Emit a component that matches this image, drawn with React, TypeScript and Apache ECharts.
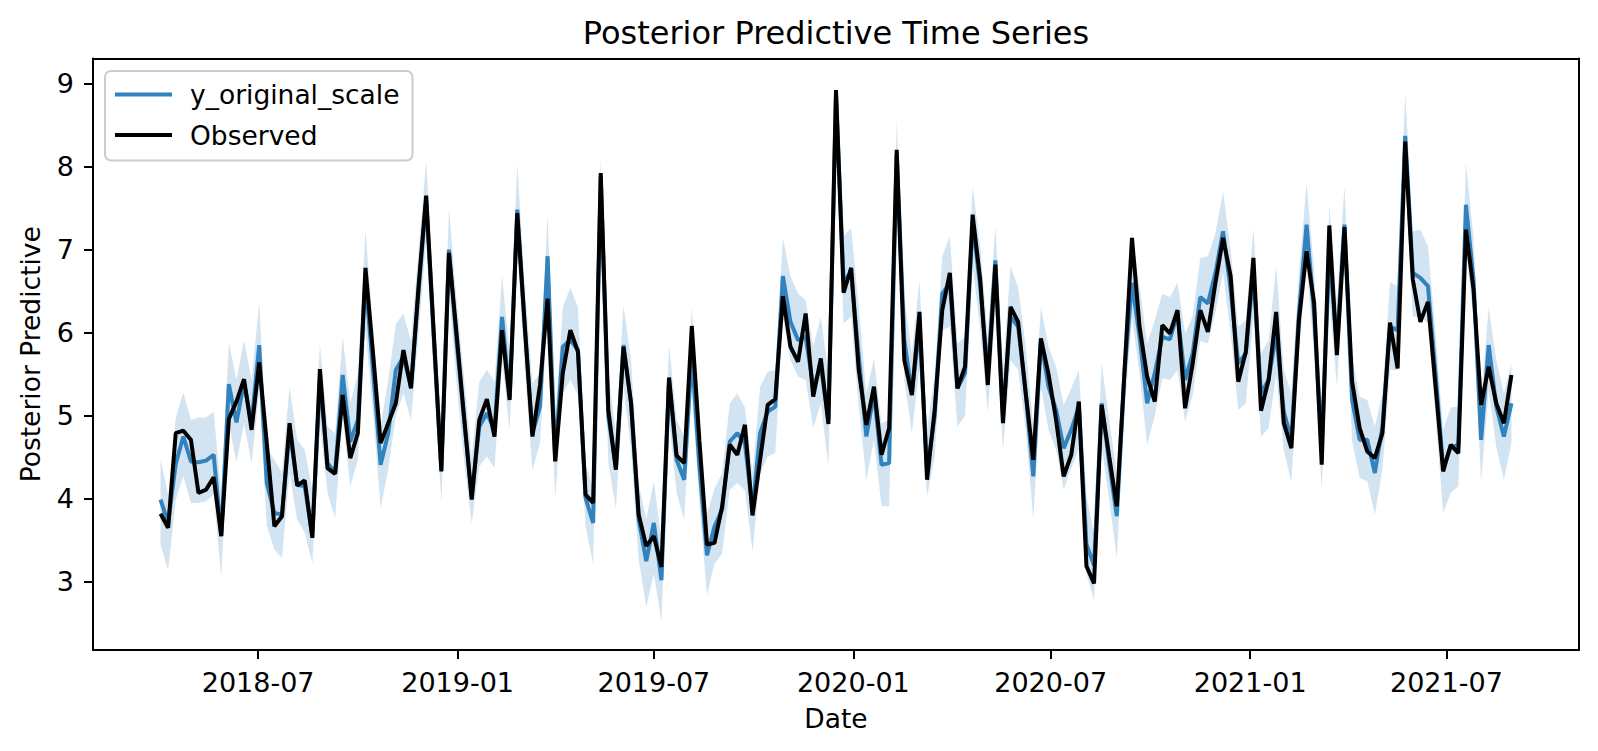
import React, { useEffect, useRef } from "react";
import * as echarts from "echarts";

// weekly observations, first week starting Monday 2018-04-02
const START_DATE = [2018, 4, 2];
const observed = [
  3.82, 3.65, 4.79, 4.82, 4.71, 4.07, 4.11, 4.26, 3.55, 4.96,
  5.17, 5.44, 4.83, 5.64, 4.67, 3.67, 3.79, 4.91, 4.16, 4.22,
  3.53, 5.56, 4.37, 4.3, 5.25, 4.49, 4.79, 6.78, 5.75, 4.67,
  4.91, 5.15, 5.79, 5.33, 6.56, 7.65, 5.99, 4.33, 6.96, 5.99,
  4.98, 3.99, 4.95, 5.2, 4.75, 6.03, 5.19, 7.44, 6.07, 4.75,
  5.37, 6.41, 4.45, 5.51, 6.03, 5.77, 4.05, 3.95, 7.92, 5.07,
  4.35, 5.83, 5.15, 3.81, 3.43, 3.55, 3.18, 5.46, 4.52, 4.43,
  6.08, 4.7, 3.45, 3.47, 3.91, 4.65, 4.53, 4.89, 3.8, 4.47,
  5.13, 5.2, 6.44, 5.83, 5.65, 6.23, 5.23, 5.69, 4.9, 8.92,
  6.48, 6.78, 5.55, 4.89, 5.35, 4.53, 4.85, 8.2, 5.67, 5.25,
  6.25, 4.23, 5.07, 6.27, 6.72, 5.33, 5.59, 7.42, 6.64, 5.37,
  6.82, 4.91, 6.31, 6.13, 5.27, 4.47, 5.93, 5.5, 4.95, 4.27,
  4.53, 5.17, 3.19, 2.98, 5.13, 4.51, 3.91, 5.51, 7.14, 6.07,
  5.47, 5.17, 6.09, 5.99, 6.27, 5.09, 5.63, 6.27, 6.01, 6.6,
  7.14, 6.68, 5.41, 5.77, 6.9, 5.06, 5.43, 6.25, 4.91, 4.61,
  6.15, 6.98, 6.36, 4.41, 7.29, 5.73, 7.27, 5.41, 4.85, 4.57,
  4.49, 4.79, 6.12, 5.57, 8.3, 6.64, 6.13, 6.37, 5.35, 4.33,
  4.65, 4.55, 7.24, 6.52, 5.13, 5.59, 5.15, 4.91, 5.49,
];
const predMean = [
  3.99, 3.71, 4.42, 4.75, 4.45, 4.44, 4.46, 4.53, 3.56, 5.38,
  4.92, 5.4, 4.91, 5.85, 4.19, 3.83, 3.81, 4.83, 4.17, 4.15,
  3.55, 5.43, 4.43, 4.31, 5.49, 4.69, 4.95, 6.65, 5.55, 4.41,
  4.79, 5.55, 5.71, 5.35, 6.5, 7.6, 5.95, 4.35, 7.0, 5.9,
  4.95, 4.03, 4.87, 5.03, 4.83, 6.19, 5.23, 7.48, 6.07, 4.79,
  5.11, 6.92, 4.47, 5.83, 5.91, 5.79, 4.01, 3.71, 7.88, 4.99,
  4.37, 5.85, 5.15, 3.75, 3.25, 3.71, 3.02, 5.43, 4.47, 4.23,
  5.75, 4.4, 3.32, 3.67, 3.87, 4.69, 4.79, 4.67, 3.87, 4.79,
  5.05, 5.11, 6.68, 6.13, 5.91, 5.95, 5.35, 5.59, 4.95, 8.85,
  6.63, 6.72, 5.71, 4.75, 5.27, 4.41, 4.43, 8.15, 5.91, 5.27,
  6.07, 4.35, 4.99, 6.47, 6.6, 5.33, 5.51, 7.32, 6.56, 5.51,
  6.87, 4.99, 6.19, 6.07, 5.27, 4.27, 5.91, 5.35, 5.07, 4.61,
  4.83, 5.11, 3.45, 3.2, 5.15, 4.43, 3.79, 5.5, 6.6, 5.95,
  5.15, 5.51, 5.95, 5.92, 6.23, 5.43, 5.75, 6.43, 6.35, 6.72,
  7.22, 6.52, 5.63, 5.75, 6.72, 5.27, 5.43, 5.99, 5.05, 4.71,
  6.23, 7.3, 6.23, 4.63, 6.95, 5.85, 7.3, 5.19, 4.71, 4.71,
  4.31, 4.87, 6.07, 6.03, 8.37, 6.72, 6.66, 6.56, 5.5, 4.37,
  4.62, 4.65, 7.54, 6.64, 4.71, 5.85, 5.11, 4.75, 5.15,
];
const predLower = [
  3.45, 3.14, 3.99, 4.27, 3.95, 3.95, 3.97, 4.05, 3.06, 4.91,
  4.44, 4.9, 4.43, 5.3, 3.67, 3.39, 3.29, 4.31, 3.75, 3.59,
  3.22, 4.91, 4.07, 3.77, 4.99, 4.15, 4.47, 6.03, 5.03, 3.89,
  4.35, 5.0, 5.27, 4.95, 6.0, 7.12, 5.45, 3.95, 6.5, 5.4,
  4.45, 3.71, 4.39, 4.51, 4.37, 5.67, 4.83, 7.0, 5.55, 4.35,
  4.67, 6.23, 4.0, 5.27, 5.43, 5.25, 3.67, 3.22, 7.36, 4.43,
  3.88, 5.35, 4.59, 3.27, 2.7, 3.1, 2.52, 4.95, 4.07, 3.75,
  5.3, 3.95, 2.84, 3.22, 3.34, 4.11, 4.19, 4.1, 3.37, 4.3,
  4.51, 4.55, 6.19, 5.67, 5.47, 5.43, 4.85, 5.15, 4.39, 8.3,
  6.11, 6.19, 5.11, 4.23, 4.71, 3.91, 3.91, 7.65, 5.43, 4.79,
  5.59, 4.03, 4.5, 6.03, 6.07, 4.87, 5.0, 6.8, 6.05, 5.05,
  6.23, 4.59, 5.67, 5.55, 4.83, 3.75, 5.35, 4.83, 4.59, 4.11,
  4.37, 4.6, 3.1, 2.78, 4.63, 3.99, 3.28, 5.03, 6.19, 5.5,
  4.65, 5.0, 5.45, 5.43, 5.55, 4.93, 5.25, 5.9, 5.87, 6.25,
  6.72, 6.0, 5.07, 5.15, 6.19, 4.75, 4.85, 5.5, 4.59, 4.2,
  5.75, 6.8, 5.75, 4.11, 6.43, 5.35, 6.8, 4.7, 4.25, 4.21,
  3.81, 4.35, 5.55, 5.55, 7.85, 6.19, 6.19, 6.11, 5.0, 3.83,
  4.07, 4.15, 7.0, 6.15, 4.21, 5.31, 4.63, 4.23, 4.67,
];
const predUpper = [
  4.48, 4.05, 4.98, 5.28, 4.95, 4.98, 4.98, 5.05, 4.05, 5.89,
  5.43, 5.91, 5.43, 6.36, 4.62, 4.47, 4.31, 5.35, 4.71, 4.59,
  4.1, 5.87, 4.87, 4.79, 5.95, 5.15, 5.51, 7.22, 6.07, 4.87,
  5.43, 6.1, 6.23, 5.9, 7.0, 8.06, 6.45, 4.8, 7.5, 6.4,
  5.45, 4.51, 5.41, 5.55, 5.41, 6.68, 5.75, 8.04, 6.55, 5.39,
  5.51, 7.42, 4.95, 6.31, 6.54, 6.3, 4.43, 4.11, 8.1, 5.51,
  4.79, 6.33, 5.67, 4.19, 3.75, 4.21, 3.51, 5.85, 4.95, 4.75,
  6.3, 4.9, 3.82, 4.12, 4.31, 5.15, 5.27, 5.1, 4.31, 5.35,
  5.53, 5.55, 7.14, 6.68, 6.47, 6.39, 5.83, 6.19, 5.51, 8.95,
  7.16, 7.26, 6.31, 5.27, 5.69, 4.91, 4.95, 8.55, 6.43, 5.75,
  6.63, 4.83, 5.5, 6.92, 7.16, 5.87, 5.95, 7.76, 7.05, 5.95,
  7.28, 5.55, 6.8, 6.55, 5.83, 4.87, 6.31, 5.83, 5.59, 5.13,
  5.33, 5.55, 4.03, 3.58, 5.63, 4.95, 4.31, 5.95, 7.22, 6.56,
  5.87, 6.15, 6.47, 6.43, 6.6, 5.99, 6.2, 6.9, 6.92, 7.2,
  7.7, 7.0, 6.07, 6.15, 7.26, 5.75, 5.91, 6.8, 5.55, 5.27,
  6.7, 7.8, 6.75, 5.1, 7.52, 6.35, 7.76, 5.7, 5.23, 5.19,
  4.87, 5.27, 6.61, 6.56, 8.88, 7.22, 7.24, 7.04, 6.0, 4.83,
  5.1, 5.11, 8.04, 7.15, 5.2, 6.31, 5.67, 5.27, 5.63,
];
const xTickLabels = ["2018-07", "2019-01", "2019-07", "2020-01", "2020-07", "2021-01", "2021-07"];
const yTickValues = [3, 4, 5, 6, 7, 8, 9];

const DAY = 86400000;
const t0 = Date.UTC(START_DATE[0], START_DATE[1] - 1, START_DATE[2]);
const dates = observed.map((_, i) => t0 + i * 7 * DAY);
const xTicks = xTickLabels.map((s) => Date.UTC(+s.slice(0, 4), +s.slice(5, 7) - 1, 1));
const span = dates[dates.length - 1] - dates[0];
const X_MIN = dates[0] - 0.05 * span;
const X_MAX = dates[dates.length - 1] + 0.05 * span;

const FONT = "DejaVu Sans";
const BLUE = "#3182bd";
const BAND = "rgba(49,130,189,0.22)";

function fmtDate(v: number) {
  const d = new Date(v);
  const m = d.getUTCMonth() + 1;
  return d.getUTCFullYear() + "-" + (m < 10 ? "0" + m : "" + m);
}

export default function App() {
  const ref = useRef<HTMLDivElement>(null);
  useEffect(() => {
    document.body.style.margin = "0";
    const chart = echarts.init(ref.current!, undefined, { renderer: "svg" });
    const meanData = dates.map((t, i) => [t, predMean[i]]);
    const obsData = dates.map((t, i) => [t, observed[i]]);
    chart.setOption({
      animation: false,
      title: {
        text: "Posterior Predictive Time Series",
        left: 836,
        top: 33,
        textAlign: "center",
        textVerticalAlign: "middle",
        padding: 0,
        textStyle: { fontFamily: FONT, fontSize: 32, fontWeight: "normal", color: "#000" },
      },
      legend: {
        data: ["y_original_scale", "Observed"],
        orient: "vertical",
        left: 105,
        top: 71,
        icon: "rect",
        itemWidth: 57,
        itemHeight: 4,
        itemGap: 13.5,
        padding: [10, 13, 12, 10],
        borderColor: "#cccccc",
        borderWidth: 2,
        borderRadius: 6,
        backgroundColor: "rgba(255,255,255,0.8)",
        selectedMode: false,
        textStyle: {
          fontFamily: FONT,
          fontSize: 26.5,
          lineHeight: 26,
          color: "#000",
          padding: [0, 0, 0, 13],
        },
      },
      grid: {
        left: 93,
        right: 19,
        top: 58.5,
        bottom: 101,
        containLabel: false,
        outerBoundsMode: "none",
      },
      xAxis: [
        {
          type: "value",
          min: X_MIN,
          max: X_MAX,
          name: "Date",
          nameLocation: "middle",
          nameGap: 55,
          nameTextStyle: { fontFamily: FONT, fontSize: 26.5, color: "#000" },
          axisLine: { show: true, lineStyle: { color: "#000", width: 2 } },
          axisTick: { show: true, length: 9, lineStyle: { color: "#000", width: 2 }, customValues: xTicks },
          axisLabel: {
            customValues: xTicks,
            formatter: (v: number) => fmtDate(v),
            fontFamily: FONT,
            fontSize: 27,
            color: "#000",
            margin: 19,
          },
          splitLine: { show: false },
        },
        {
          type: "value",
          position: "top",
          min: X_MIN,
          max: X_MAX,
          axisLine: { show: true, onZero: false, lineStyle: { color: "#000", width: 2 } },
          axisTick: { show: false },
          axisLabel: { show: false },
          splitLine: { show: false },
        },
      ],
      yAxis: [
        {
          type: "value",
          min: 2.18,
          max: 9.3,
          name: "Posterior Predictive",
          nameLocation: "middle",
          nameGap: 49,
          nameTextStyle: { fontFamily: FONT, fontSize: 26.5, color: "#000" },
          axisLine: { show: true, onZero: false, lineStyle: { color: "#000", width: 2 } },
          axisTick: { show: true, length: 9, lineStyle: { color: "#000", width: 2 }, customValues: yTickValues },
          axisLabel: {
            customValues: yTickValues,
            fontFamily: FONT,
            fontSize: 27,
            color: "#000",
            margin: 19,
          },
          splitLine: { show: false },
        },
        {
          type: "value",
          position: "right",
          min: 2.18,
          max: 9.3,
          axisLine: { show: true, onZero: false, lineStyle: { color: "#000", width: 2 } },
          axisTick: { show: false },
          axisLabel: { show: false },
          splitLine: { show: false },
        },
      ],
      series: [
        {
          name: "interval",
          type: "custom",
          silent: true,
          clip: true,
          z: 1,
          data: [[dates[0], predMean[0]]],
          renderItem: (_params: any, api: any) => {
            const pts: number[][] = [];
            for (let i = 0; i < dates.length; i++) pts.push(api.coord([dates[i], predUpper[i]]));
            for (let i = dates.length - 1; i >= 0; i--) pts.push(api.coord([dates[i], predLower[i]]));
            return {
              type: "polygon",
              shape: { points: pts },
              style: { fill: BAND, stroke: null },
            };
          },
        },
        {
          name: "y_original_scale",
          type: "line",
          data: meanData,
          symbol: "none",
          color: BLUE,
          lineStyle: { color: BLUE, width: 4 },
          z: 2,
        },
        {
          name: "Observed",
          type: "line",
          data: obsData,
          symbol: "none",
          color: "#000",
          lineStyle: { color: "#000", width: 4 },
          z: 3,
        },
      ],
    });
    return () => chart.dispose();
  }, []);
  return <div ref={ref} style={{ width: 1598, height: 751 }} />;
}
